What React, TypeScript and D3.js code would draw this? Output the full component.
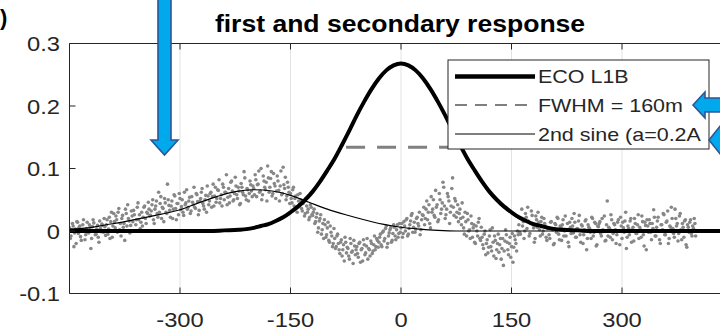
import React from "react";
import * as d3 from "d3";

// ---------- data ----------
const xTicks = [-300, -150, 0, 150, 300];
const yTicks = [-0.1, 0, 0.1, 0.2, 0.3];
const yTickLabels = ["-0.1", "0", "0.1", "0.2", "0.3"];
const titleText = "first and secondary response";
const legendLabels = ["ECO L1B", "FWHM = 160m", "2nd sine (a=0.2A"];

// ECO L1B response (thick curve)
const ecoX = [-450, -260, -240, -220, -210, -200, -190, -180, -170, -160, -150, -140, -130, -120, -110, -100, -90, -80, -70, -60, -50, -40, -30, -20, -10, 0, 10, 20, 30, 40, 50, 60, 70, 80, 90, 100, 110, 120, 130, 140, 150, 160, 170, 180, 190, 200, 210, 220, 240, 260, 450];
const ecoY = [0, 0, 0.001, 0.002, 0.003, 0.005, 0.008, 0.011, 0.016, 0.022, 0.03, 0.039, 0.05, 0.063, 0.079, 0.097, 0.116, 0.138, 0.161, 0.185, 0.207, 0.227, 0.244, 0.257, 0.265, 0.268, 0.265, 0.257, 0.244, 0.227, 0.207, 0.185, 0.161, 0.138, 0.116, 0.097, 0.079, 0.063, 0.05, 0.039, 0.03, 0.022, 0.016, 0.011, 0.008, 0.005, 0.003, 0.002, 0.001, 0, 0];

// FWHM marker
const fwhmX = [-80, 80];
const fwhmY = 0.134;

// 2nd sine response (thin curve)
const sineX = [-450, -425, -400, -375, -350, -325, -300, -275, -250, -225, -200, -175, -150, -125, -100, -75, -50, -25, 0, 25, 50, 75, 450];
const sineY = [0.003, 0.005, 0.01, 0.015, 0.021, 0.027, 0.034, 0.045, 0.055, 0.063, 0.066, 0.064, 0.057, 0.046, 0.035, 0.026, 0.018, 0.011, 0.006, 0.003, 0.001, 0, 0];

// measured samples (even positions), x = -450 .. 400 step 2, values in thousandths
const scatterEvenStartX = -450;
const scatterEvenMilli = [
  5, -8, 12, -25, 3, 15, -4, 8, -15, 10, 2, -6, 14, -3, 6, -12, 18, 0, -5, 9, -18, 4, 11, -2, 7,
  10, -5, 22, 15, -10, 28, 5, 18, 30, 2, -8, 25, 12, 35, 8, 20, -3, 32, 15, 26, 10, 38, 18, 4, 30, 22, 40, 12, 28, 35,
  25, 42, 18, 35, 48, 22, 30, 55, 38, 15, 45, 28, 50, 33, 40, 20, 58, 36, 44, 26, 52, 39, 30, 62, 45, 35, 48, 28, 55, 42, 38, 60, 47, 33, 52, 68, 40, 50, 30, 56,
  48, 62, 55, 40, 70, 52, 65, 45, 58, 75, 50, 62, 42, 68, 56, 80, 48, 60, 72, 52, 64, 44, 70, 58, 85, 50, 66, 60, 74, 55,
  68, 90, 55, 75, 62, 100, 58, 80, 66, 48, 85, 70, 95, 60, 76, 52, 88, 65, 72, 58, 102, 68, 50, 78, 62,
  60, 45, 70, 52, 38, 58, 42, 50, 32, 46, 28, 40, 35, 22, 38,
  25, 35, 15, 28, 5, 20, -5, 12, 18, -10, 5, -15, 8, -8, -20,
  -12, -25, -5, -30, -18, -40, -22, -10, -35, -28, -45, -20, -32, -15, -38,
  -25, -42, -18, -30, -48, -22, -35, -12, -28, -40, -20, -32, -8, -25, -15,
  -18, -5, -25, 0, -12, 8, -20, -3, 5, -15, 10, -8, 2, -10, 12,
  5, -10, 15, 0, 20, -5, 10, 25, -2, 14, 3, 22, 8, -6, 18,
  25, 10, 35, 18, 42, 5, 30, 50, 22, 38, 15, 60, 28, 45, 70, 20, 35, 55, 12, 40, 85, 25, 48, 30, 15,
  35, 10, 22, -5, 15, 28, 0, -12, 12, 5, -18, 8, -8, 20, -15,
  -10, -28, 0, -20, -35, -8, -25, 5, -40, -15, -30, -5, -22, -45, -12, -32, 2, -18, -38, -10, -25, -50, -8, -20, 0,
  10, -5, 35, 15, 0, 22, 38, -8, 12, 25, 5, -12, 18, 30, 2, 15, -5, 20, 8, -15,
  5, -12, 15, 2, -20, 10, 22, -5, 8, -15, 18, 0, -8, 12, -25, 6, 20, -3, 14, -10,
  3, 25, -18, 8, -6, 16, -30, 10, 4, -12, 20, -2, 12, -22, 7, 15, -8, 2, 24, -15,
  48, 6, -10, 18, -4, 10, -20, 14, 0, 22, -12, 5, 16, -28, 8, -6, 20, 2, -16, 12,
  -4, 26, 6, -10, 15, -24, 9, 18, -2, 12, -14, 4, 22, -8, 16, 0, -20, 10, 28, -6,
  14, 32, -12, 6, 20, -4, 35, 8, -16, 24, 2, 12, -10, 18, -26, 6, 14, -4, 8, 20, -8,
];

// measured samples (odd positions), x = -449 .. 399 step 2, values in thousandths
const scatterOddStartX = -449;
const scatterOddMilli = [
  -12, 2, 8, -3, -20, 14, 6, -9, 1, 18, -14, 4, -2, 10, -28, 7, 13, -6, 3, -10, 16, -1, 9, 20, -7,
  18, 3, -12, 30, 8, 15, 24, -2, 36, 12, 20, 6, -15, 28, 42, 16, 9, 24, 33, 0, 18, 45, 26, 14, 8, 38, 20, 30, 46, 24,
  32, 50, 12, 40, 28, 62, 44, 20, 36, 52, 30, 75, 41, 22, 48, 35, 56, 18, 44, 60, 34, 50, 25, 42, 66, 38, 54, 32, 46, 70, 36, 58, 26, 48, 62, 44, 35, 57, 72, 42,
  60, 38, 75, 56, 46, 66, 82, 52, 40, 70, 62, 90, 54, 45, 78, 64, 50, 86, 58, 70, 42, 76, 62, 95, 56, 68, 48, 80, 64, 72,
  58, 82, 74, 96, 64, 50, 88, 70, 78, 104, 62, 84, 56, 92, 72, 64, 80, 48, 96, 60, 74, 86, 56, 70, 44,
  52, 66, 40, 56, 30, 48, 60, 36, 44, 24, 52, 30, 18, 42, 26,
  30, 12, 22, -2, 16, 26, 2, -12, 10, -6, 14, -18, -2, -25, 4,
  -28, -8, -20, -36, -14, -30, -48, -18, -26, -40, -12, -34, -52, -24, -30,
  -36, -20, -50, -28, -14, -38, -24, -45, -30, -16, -36, -22, -30, -12, -26,
  -10, -22, -2, -16, 4, -26, -8, 2, -18, -4, 6, -14, 10, -4, -2,
  12, -4, 8, 18, -8, 4, 16, 28, 6, -2, 20, 12, 30, 2, 26,
  38, 20, 48, 30, 12, 55, 35, 25, 65, 42, 18, 50, 35, 78, 40, 26, 60, 48, 30, 68, 38, 52, 22, 42, 28,
  20, 45, 5, 30, -8, 18, 2, 24, -10, 10, -20, 0, 14, -12, 6,
  -22, -5, -38, -14, -26, 2, -32, -18, -8, -44, -20, -34, -12, -28, -55, -16, -6, -30, -20, -42, -4, -26, -14, -32, -6,
  -2, 20, 8, -12, 28, 4, 16, -4, 32, 10, -18, 24, 6, 14, -8, 22, 0, 12, -10, 4,
  -6, 14, 4, -22, 12, -2, 20, -14, 6, 10, -8, 24, 2, -18, 14, -4, 8, 28, -10, 4,
  16, -6, 10, -20, 2, 18, -12, 6, -2, 22, -8, 14, -24, 8, 12, -4, 20, 0, -16, 10,
  -8, 4, 26, -14, 12, 2, -6, 18, -22, 8, 14, -2, 30, -10, 4, 16, -18, 6, 20, -4,
  10, -12, 2, 24, -6, 14, -30, 8, 18, -2, 12, 34, -8, 6, 22, -14, 10, 2, 26, -6,
  16, -20, 8, 38, 4, -10, 20, 12, -4, 28, -14, 6, 16, -22, 10, -2, 18, -8, 4, 12,
];
const scatterStepX = 2;

// ---------- layout ----------
const W = 720;
const H = 333;
const plot = { left: 69.5, right: 732.5, top: 43.5, bottom: 293.5 };
const FONT = "'Liberation Sans', Arial, Helvetica, sans-serif";
const AX = "#262626";
const SX = 1.13; // horizontal text stretch

function T(props: {
  x: number;
  y: number;
  size: number;
  anchor?: "start" | "middle" | "end";
  weight?: string;
  fill?: string;
  children: React.ReactNode;
}) {
  return (
    <text
      transform={`translate(${props.x},${props.y}) scale(${SX},1)`}
      textAnchor={props.anchor || "start"}
      fontSize={props.size}
      fontWeight={props.weight || "normal"}
      fill={props.fill || AX}
    >
      {props.children}
    </text>
  );
}

export default function App() {
  const x = d3.scaleLinear().domain([-450, 450]).range([plot.left, plot.right]);
  const y = d3.scaleLinear().domain([-0.1, 0.3]).range([plot.bottom, plot.top]);

  const line = d3
    .line<[number, number]>()
    .x((d) => x(d[0]))
    .y((d) => y(d[1]))
    .curve(d3.curveMonotoneX);

  const ecoPath = line(ecoX.map((v, i) => [v, ecoY[i]]) as [number, number][]) || "";
  const sinePath = line(sineX.map((v, i) => [v, sineY[i]]) as [number, number][]) || "";
  const scatter = [
    ...scatterEvenMilli.map((v, i) => [scatterEvenStartX + i * scatterStepX, v / 1000]),
    ...scatterOddMilli.map((v, i) => [scatterOddStartX + i * scatterStepX, v / 1000]),
  ];

  // legend geometry
  const lg = { x0: 448, y0: 60, x1: 709, y1: 149 };
  const rows = [76.5, 105, 134];

  return (
    <svg
      width={W}
      height={H}
      style={{ position: "absolute", left: 0, top: 0, background: "#fff" }}
      fontFamily={FONT}
    >
      <defs>
        <clipPath id="plotClip">
          <rect x={plot.left} y={plot.top} width={plot.right - plot.left} height={plot.bottom - plot.top} />
        </clipPath>
      </defs>
      <rect x={0} y={0} width={W} height={H} fill="#fff" />

      {/* grid */}
      {xTicks.map((t) => (
        <line key={"g" + t} x1={x(t)} x2={x(t)} y1={plot.top} y2={plot.bottom} stroke="#e3e3e3" strokeWidth={1} />
      ))}

      <g clipPath="url(#plotClip)">
        {scatter.map((d, i) => (
          <circle key={i} cx={x(d[0])} cy={y(d[1])} r={1.8} fill="#878787" />
        ))}
        <line
          x1={x(fwhmX[0])}
          x2={x(fwhmX[1])}
          y1={y(fwhmY)}
          y2={y(fwhmY)}
          stroke="#808080"
          strokeWidth={3}
          strokeDasharray="19,12"
          strokeDashoffset={-4}
        />
        <path d={sinePath} fill="none" stroke="#000" strokeWidth={1.2} />
        <path d={ecoPath} fill="none" stroke="#000" strokeWidth={4} />
      </g>

      {/* axes box */}
      <line x1={plot.left} x2={plot.right} y1={plot.top} y2={plot.top} stroke={AX} strokeWidth={1} />
      <line x1={plot.left} x2={plot.right} y1={plot.bottom} y2={plot.bottom} stroke={AX} strokeWidth={1} />
      <line x1={plot.left} x2={plot.left} y1={plot.top} y2={plot.bottom} stroke={AX} strokeWidth={1} />

      {xTicks.map((t) => (
        <g key={"xt" + t}>
          <line x1={x(t)} x2={x(t)} y1={plot.bottom} y2={plot.bottom - 6} stroke={AX} />
          <line x1={x(t)} x2={x(t)} y1={plot.top} y2={plot.top + 6} stroke={AX} />
          <T x={x(t)} y={327} size={21} anchor="middle">
            {String(t)}
          </T>
        </g>
      ))}
      {yTicks.map((t, i) => (
        <g key={"yt" + t}>
          <line x1={plot.left} x2={plot.left + 6} y1={y(t)} y2={y(t)} stroke={AX} />
          <T x={60} y={y(t) + 7.5} size={21} anchor="end">
            {yTickLabels[i]}
          </T>
        </g>
      ))}

      {/* title */}
      <T x={400} y={32} size={23.5} anchor="middle" weight="bold" fill="#000">
        {titleText}
      </T>
      <text x={0} y={25} fontSize={22} fontWeight="bold" fill="#000">
        )
      </text>

      {/* legend */}
      <rect x={lg.x0} y={lg.y0} width={lg.x1 - lg.x0} height={lg.y1 - lg.y0} fill="#fff" stroke={AX} strokeWidth={1} />
      <line x1={455} x2={535} y1={rows[0]} y2={rows[0]} stroke="#000" strokeWidth={4.5} />
      <line x1={455} x2={535} y1={rows[1]} y2={rows[1]} stroke="#000" strokeWidth={1.2} strokeDasharray="12,8" />
      <line x1={455} x2={535} y1={rows[2]} y2={rows[2]} stroke="#000" strokeWidth={1.2} />
      {legendLabels.map((l, i) => (
        <T key={l} x={538} y={rows[i] + 6.8} size={19}>
          {l}
        </T>
      ))}

      {/* annotation arrows */}
      <g fill="#00a8ec" stroke="#2f5597" strokeWidth={1.6} strokeLinejoin="miter">
        <polygon points="158,-5 171,-5 171,140 178,140 164.5,155 151,140 158,140" />
        <polygon points="693,105 705,92 705,98 725,98 725,112 705,112 705,118" />
        <polygon points="709,140 721,125 721,131 740,131 740,149 721,149 721,155" />
      </g>
    </svg>
  );
}
